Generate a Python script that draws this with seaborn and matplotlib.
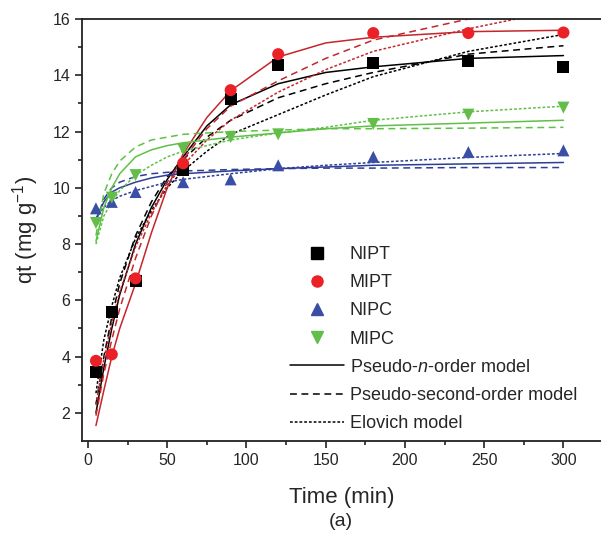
import pandas as pd
import seaborn as sns
import matplotlib.pyplot as plt
from matplotlib.lines import Line2D

# measured points
time = [5, 15, 30, 60, 90, 120, 180, 240, 300]
nipt = [3.45, 5.6, 6.7, 10.62, 13.15, 14.35, 14.45, 14.5, 14.3]
mipt = [3.85, 4.08, 6.78, 10.87, 13.47, 14.75, 15.5, 15.5, 15.52]
nipc = [9.27, 9.5, 9.85, 10.2, 10.3, 10.8, 11.1, 11.27, 11.33]
mipc = [8.75, 9.65, 10.45, 11.38, 11.8, 11.9, 12.27, 12.6, 12.85]

# model curves
t_fit = [5, 10, 15, 20, 30, 40, 50, 60, 75, 90, 120, 150, 180, 240, 300]
nipt_n = [2.0, 3.6, 5.0, 6.2, 8.0, 9.3, 10.3, 11.1, 12.2, 12.95, 13.7, 14.1, 14.3, 14.6, 14.7]
nipt_2 = [2.3, 4.0, 5.4, 6.6, 8.3, 9.5, 10.4, 11.0, 11.8, 12.4, 13.2, 13.7, 14.1, 14.75, 15.05]
nipt_e = [2.7, 4.6, 5.8, 6.8, 8.2, 9.2, 10.0, 10.6, 11.3, 11.9, 12.6, 13.3, 13.95, 14.85, 15.45]
mipt_n = [1.55, 2.8, 4.0, 5.0, 6.6, 8.4, 10.0, 11.2, 12.5, 13.45, 14.65, 15.15, 15.35, 15.55, 15.6]
mipt_2 = [1.9, 3.4, 4.6, 5.7, 7.5, 9.0, 10.2, 11.0, 12.1, 12.9, 13.8, 14.6, 15.25, 16.0, 16.5]
mipt_e = [2.3, 3.9, 5.2, 6.3, 7.9, 9.1, 10.1, 10.8, 11.7, 12.4, 13.4, 14.2, 14.85, 15.65, 16.35]
nipc_n = [8.9, 9.5, 9.85, 10.0, 10.2, 10.35, 10.45, 10.5, 10.55, 10.6, 10.68, 10.74, 10.8, 10.85, 10.9]
nipc_2 = [8.8, 9.6, 10.0, 10.2, 10.4, 10.5, 10.55, 10.6, 10.62, 10.65, 10.68, 10.7, 10.7, 10.72, 10.72]
nipc_e = [8.9, 9.3, 9.55, 9.7, 9.9, 10.05, 10.2, 10.3, 10.4, 10.5, 10.68, 10.8, 10.9, 11.08, 11.22]
mipc_n = [8.1, 9.3, 10.0, 10.5, 11.1, 11.35, 11.5, 11.6, 11.7, 11.8, 11.95, 12.1, 12.2, 12.3, 12.4]
mipc_2 = [8.3, 9.8, 10.5, 10.95, 11.45, 11.7, 11.8, 11.9, 11.95, 12.0, 12.05, 12.1, 12.1, 12.12, 12.15]
mipc_e = [8.0, 9.0, 9.5, 9.9, 10.45, 10.8, 11.1, 11.3, 11.5, 11.7, 11.95, 12.15, 12.4, 12.7, 12.9]

samples = ['NIPT', 'MIPT', 'NIPC', 'MIPC']
models = ['Pseudo-$\\it{n}$-order model', 'Pseudo-second-order model', 'Elovich model']

sns.set_style('ticks')
plt.rcParams['font.family'] = ['Liberation Sans', 'DejaVu Sans']
plt.rcParams['mathtext.fontset'] = 'custom'
plt.rcParams['mathtext.rm'] = 'Liberation Sans'
plt.rcParams['mathtext.it'] = 'Liberation Sans:italic'

pts = pd.DataFrame({'time': time * 4,
                    'qt': nipt + mipt + nipc + mipc,
                    'sample': [s for s in samples for _ in time]})

curve_vals = {('NIPT', 0): nipt_n, ('NIPT', 1): nipt_2, ('NIPT', 2): nipt_e,
              ('MIPT', 0): mipt_n, ('MIPT', 1): mipt_2, ('MIPT', 2): mipt_e,
              ('NIPC', 0): nipc_n, ('NIPC', 1): nipc_2, ('NIPC', 2): nipc_e,
              ('MIPC', 0): mipc_n, ('MIPC', 1): mipc_2, ('MIPC', 2): mipc_e}
rows = []
for (s, m), vals in curve_vals.items():
    for t, q in zip(t_fit, vals):
        rows.append({'time': t, 'qt': q, 'sample': s, 'model': models[m]})
curves = pd.DataFrame(rows)

pt_colors = {'NIPT': '#000000', 'MIPT': '#ea2228', 'NIPC': '#3a4ea6', 'MIPC': '#62be48'}
ln_colors = {'NIPT': '#000000', 'MIPT': '#c4262b', 'NIPC': '#2e3d96', 'MIPC': '#5ec146'}
markers = {'NIPT': 's', 'MIPT': 'o', 'NIPC': '^', 'MIPC': 'v'}
dashes = {models[0]: '', models[1]: (4.5, 3), models[2]: (1.8, 1.3)}

fig = plt.figure(figsize=(6.01, 5.38), dpi=100)
ax = fig.add_axes([82 / 601, 97 / 538, 519 / 601, 422 / 538])

sns.lineplot(data=curves, x='time', y='qt', hue='sample', style='model',
             palette=ln_colors, dashes=dashes, estimator=None, sort=False,
             linewidth=1.1, legend=False, ax=ax)
sns.scatterplot(data=pts, x='time', y='qt', hue='sample', style='sample',
                palette=pt_colors, markers=markers, s=75, linewidth=0,
                legend=False, zorder=5, ax=ax)

ax.set_xlim(-3.8, 323.7)
ax.set_ylim(1, 16)
ax.set_xticks(range(0, 301, 50))
ax.set_xticks(range(25, 301, 50), minor=True)
ax.set_yticks(range(2, 17, 2))
ax.set_yticks(range(3, 16, 2), minor=True)
ax.tick_params(which='major', length=5, width=1.2, labelsize=11.5, color='#222222')
ax.tick_params(which='minor', length=3, width=1.2, color='#222222')
for side in ['left', 'bottom', 'top']:
    ax.spines[side].set_linewidth(1.3)
    ax.spines[side].set_color('#222222')
ax.spines['right'].set_visible(False)

ax.set_xlabel('Time (min)', fontsize=16, labelpad=14)
ax.set_ylabel('qt (mg g$^{-1}$)', fontsize=16, labelpad=8)
fig.text(341 / 601, 1 - 522 / 538, '(a)', fontsize=14, ha='center', va='center')

handles = [Line2D([], [], color=pt_colors[s], marker=markers[s], linestyle='none',
                  markersize=8) for s in samples]
handles += [Line2D([], [], color='black', lw=1.1, linestyle='-'),
            Line2D([], [], color='black', lw=1.1, dashes=(4.5, 3)),
            Line2D([], [], color='black', lw=1.1, dashes=(1.8, 1.3))]
ax.legend(handles, samples + models, loc='upper left', frameon=False,
          bbox_to_anchor=(290 / 601, 1 - 246 / 538), bbox_transform=fig.transFigure,
          borderpad=0, borderaxespad=0, handlelength=3.0, handletextpad=0.3,
          labelspacing=0.62, fontsize=13)

fig.savefig('out.png', dpi=100)
